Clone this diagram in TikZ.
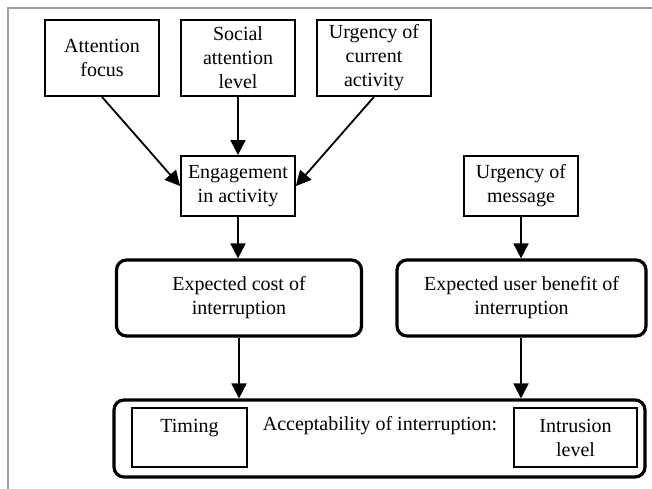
\documentclass[tikz,border=0pt]{standalone}
\usepackage{fontspec}
\setmainfont{Liberation Serif}
\usetikzlibrary{arrows.meta}

\begin{document}
\begin{tikzpicture}[x=1pt,y=-1pt,
  font=\fontsize{20}{24}\selectfont,
  factor/.style={draw,line width=1.8pt,align=center,inner sep=0pt,minimum width=114pt,minimum height=76pt},
  midbox/.style={draw,line width=1.8pt,align=center,inner sep=0pt,minimum width=114pt,minimum height=60pt},
  expect/.style={draw,line width=3.2pt,rounded corners=10pt,align=center,inner sep=0pt,minimum height=76pt},
  part/.style={draw,line width=1.8pt,align=center,inner sep=0pt,minimum height=59pt},
  arr/.style={line width=1.8pt,-{Triangle[length=15pt,width=15pt]}}]
\useasboundingbox (0,0) rectangle (652,489);
\draw[gray!75,line width=2pt] (8,489) -- (8,8) -- (652,8);
\node[factor] (focus) at (102,58) {Attention\\focus};
\node[factor] (social) at (238,58) {Social\\attention\\level};
\node[factor] (urgcur) at (374,58) {Urgency of\\current\\activity};
\node[midbox] (engage) at (238,186) {Engagement\\in activity};
\node[midbox] (urgmsg) at (521,186) {Urgency of\\message};
\node[expect,minimum width=245pt] (cost) at (239,298) {Expected cost of\\interruption};
\node[expect,minimum width=249pt] (benefit) at (521.5,298) {Expected user benefit of\\interruption};
\node[expect,minimum width=531pt,minimum height=77pt] (accept) at (379.5,438.5) {};
\node[part,minimum width=115pt] (timing) at (189.5,437.5) {Timing\\~};
\node[part,minimum width=123pt] (intrusion) at (575.5,437.5) {Intrusion\\level};
\node[anchor=base] (acclabel) at (380,430) {Acceptability of interruption:};
\draw[arr] (focus.south) -- (engage.west);
\draw[arr] (social) -- (engage);
\draw[arr] (urgcur.south) -- (engage.east);
\draw[arr] (engage.south) -- (engage.south |- cost.north);
\draw[arr] (urgmsg) -- (urgmsg |- benefit.north);
\draw[arr] (cost.south) -- (cost.south |- accept.north);
\draw[arr] (urgmsg |- benefit.south) -- (urgmsg |- accept.north);
\end{tikzpicture}
\end{document}
